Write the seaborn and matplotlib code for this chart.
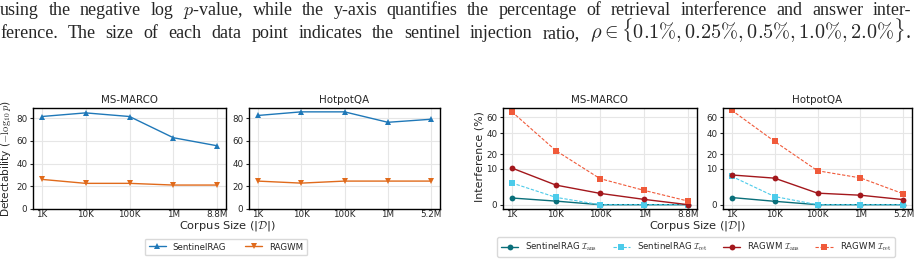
import numpy as np
import pandas as pd
import matplotlib.pyplot as plt
import seaborn as sns

# corpus sizes on the x-axis
sizes_msmarco = ["1K", "10K", "100K", "1M", "8.8M"]
sizes_hotpot = ["1K", "10K", "100K", "1M", "5.2M"]

# detectability (-log10 p)
det_sentinel_msmarco = [81.5, 84.7, 81.5, 62.8, 55.7]
det_ragwm_msmarco = [26.1, 22.6, 22.6, 21.1, 21.1]
det_sentinel_hotpot = [82.4, 85.6, 85.6, 76.4, 79.1]
det_ragwm_hotpot = [24.6, 22.8, 24.6, 24.6, 24.6]

# interference (%)
ans_sentinel_msmarco = [0.35, 0.1, 0.0, 0.0, 0.0]
ret_sentinel_msmarco = [3.7, 0.42, 0.0, 0.0, 0.0]
ans_ragwm_msmarco = [10.5, 3.0, 1.0, 0.22, 0.0]
ret_ragwm_msmarco = [67.5, 22.8, 5.3, 1.6, 0.1]

ans_sentinel_hotpot = [0.4, 0.09, 0.0, 0.0, 0.0]
ret_sentinel_hotpot = [6.3, 0.52, 0.0, 0.0, 0.0]
ans_ragwm_hotpot = [6.9, 5.5, 1.04, 0.7, 0.2]
ret_ragwm_hotpot = [69.8, 31.3, 9.0, 5.6, 0.92]

interference_ticks = [0, 10, 20, 40, 60]

# caption lines from the page (words, so the line can be justified)
caption_1 = ("using the negative log $p$-value, while the y-axis quantifies the percentage "
             "of retrieval interference and answer inter-").split(" ")
caption_2 = ("ference. The size of each data point indicates the sentinel injection "
             "ratio,").split(" ") + [r"$\rho \in \{0.1\%, 0.25\%, 0.5\%, 1.0\%, 2.0\%\}$."]

sns.set_theme(style="whitegrid")
plt.rcParams.update({
    "font.family": ["DejaVu Sans"],
    "mathtext.fontset": "cm",
    "axes.edgecolor": "black",
    "axes.linewidth": 1.0,
    "grid.color": "#e6e6e6",
    "grid.linewidth": 0.8,
    "xtick.bottom": True,
    "ytick.left": True,
    "xtick.major.size": 0,
    "ytick.major.size": 2.5,
    "xtick.major.width": 0.8,
    "ytick.major.width": 0.8,
    "xtick.major.pad": 0.8,
    "ytick.major.pad": 1.5,
    "xtick.labelsize": 6.3,
    "ytick.labelsize": 6.3,
})

fig = plt.figure(figsize=(9.23, 2.62), dpi=100)

W, H = 923, 262


def axes_px(x0, x1, y0, y1):
    return fig.add_axes([x0 / W, 1 - y1 / H, (x1 - x0) / W, (y1 - y0) / H])


def sqrt_fwd(v):
    v = np.asarray(v, dtype=float)
    return np.sign(v) * np.sqrt(np.abs(v))


def sqrt_inv(v):
    v = np.asarray(v, dtype=float)
    return np.sign(v) * v ** 2


def style_axis(ax, sizes, title):
    ax.set_xlim(-0.2, len(sizes) - 0.8)
    ax.set_title(title, fontsize=7.4, pad=3.5)
    ax.set_xlabel("")
    ax.set_ylabel("")
    for s in ax.spines.values():
        s.set_color("black")
        s.set_linewidth(1.0)


# ---- left figure: detectability ----
det_axes = [axes_px(33, 226, 108, 209), axes_px(249, 440, 108, 209)]
det_data = [
    (sizes_msmarco, det_sentinel_msmarco, det_ragwm_msmarco, "MS-MARCO"),
    (sizes_hotpot, det_sentinel_hotpot, det_ragwm_hotpot, "HotpotQA"),
]
for ax, (sizes, sent, ragwm, title) in zip(det_axes, det_data):
    df = pd.DataFrame({"size": sizes, "SentinelRAG": sent, "RAGWM": ragwm})
    sns.lineplot(data=df, x="size", y="SentinelRAG", ax=ax, sort=False, color="#1f78b8",
                 marker="^", markersize=4.5, markeredgewidth=0, linewidth=1.0, label="SentinelRAG")
    sns.lineplot(data=df, x="size", y="RAGWM", ax=ax, sort=False, color="#e06a1b",
                 marker="v", markersize=4.5, markeredgewidth=0, linewidth=1.0, label="RAGWM")
    ax.set_ylim(0, 89)
    ax.set_yticks([0, 20, 40, 60, 80])
    style_axis(ax, sizes, title)
    if ax.get_legend() is not None:
        ax.get_legend().remove()

det_axes[0].set_ylabel(r"Detectability ($-\log_{10} p$)", fontsize=7.6)
det_axes[0].yaxis.set_label_coords((13 - 33) / 193, 0.5)
h, l = det_axes[0].get_legend_handles_labels()
fig.legend(h, l, loc="center", bbox_to_anchor=(226 / W, 1 - 247 / H), ncol=2,
           fontsize=6.2, frameon=True, handlelength=2.0, columnspacing=2.2,
           borderpad=0.45, edgecolor="#d0d0d0", fancybox=True)
fig.text(227 / W, 1 - 226 / H, r"Corpus Size (|$\mathcal{D}$|)", ha="center", va="center",
         fontsize=8.2)

# ---- right figure: interference ----
int_axes = [axes_px(503, 697, 108, 209), axes_px(723, 912, 108, 209)]
int_data = [
    (sizes_msmarco, ans_sentinel_msmarco, ret_sentinel_msmarco, ans_ragwm_msmarco,
     ret_ragwm_msmarco, "MS-MARCO"),
    (sizes_hotpot, ans_sentinel_hotpot, ret_sentinel_hotpot, ans_ragwm_hotpot,
     ret_ragwm_hotpot, "HotpotQA"),
]
series_style = [
    ("SentinelRAG $\\mathcal{I}_{\\rm ans}$", "#0a6f7a", "o", "-", 1.0),
    ("SentinelRAG $\\mathcal{I}_{\\rm ret}$", "#4ccbea", "s", "--", 0.8),
    ("RAGWM $\\mathcal{I}_{\\rm ans}$", "#a3171c", "o", "-", 1.0),
    ("RAGWM $\\mathcal{I}_{\\rm ret}$", "#f05a3a", "s", "--", 0.8),
]
for ax, (sizes, a_s, r_s, a_r, r_r, title) in zip(int_axes, int_data):
    for vals, (lab, col, mk, ls, lw) in zip([a_s, r_s, a_r, r_r], series_style):
        df = pd.DataFrame({"size": sizes, "val": vals})
        sns.lineplot(data=df, x="size", y="val", ax=ax, sort=False, color=col,
                     marker=mk, markersize=4.2, markeredgewidth=0, linewidth=lw,
                     label=lab)
        if ls == "--":
            ax.lines[-1].set_dashes((3, 1.5))
    ax.set_yscale("function", functions=(sqrt_fwd, sqrt_inv))
    ax.set_ylim(-0.145, 73)
    ax.set_yticks(interference_ticks)
    ax.set_yticklabels([str(t) for t in interference_ticks])
    style_axis(ax, sizes, title)
    if ax.get_legend() is not None:
        ax.get_legend().remove()

int_axes[0].set_ylabel("Interference (%)", fontsize=7.9)
int_axes[0].yaxis.set_label_coords((485 - 503) / 194, 0.52)
h, l = int_axes[0].get_legend_handles_labels()
fig.legend(h, l, loc="center", bbox_to_anchor=(696 / W, 1 - 247 / H), ncol=4,
           fontsize=6.2, frameon=True, handlelength=2.0, columnspacing=1.8,
           borderpad=0.45, edgecolor="#d0d0d0", fancybox=True)
fig.text(697 / W, 1 - 226 / H, r"Corpus Size (|$\mathcal{D}$|)", ha="center", va="center",
         fontsize=8.2)

# ---- caption text from the page above, justified to the text block width ----
renderer = fig.canvas.get_renderer()
for words, base in [(caption_1, 15), (caption_2, 38)]:
    texts = []
    for w in words:
        size = 14.6 if w.startswith(r"$\rho") else 13.0
        texts.append(fig.text(0.0, 1 - base / H, w, ha="left", va="baseline",
                              fontsize=size, family="Liberation Serif"))
    widths = [t.get_window_extent(renderer).width for t in texts]
    gap = (911 - sum(widths)) / (len(words) - 1)
    x = 0.0
    for t, w in zip(texts, widths):
        t.set_x(x / W)
        x += w + gap

fig.savefig("out.png", dpi=100)
plt.close(fig)
